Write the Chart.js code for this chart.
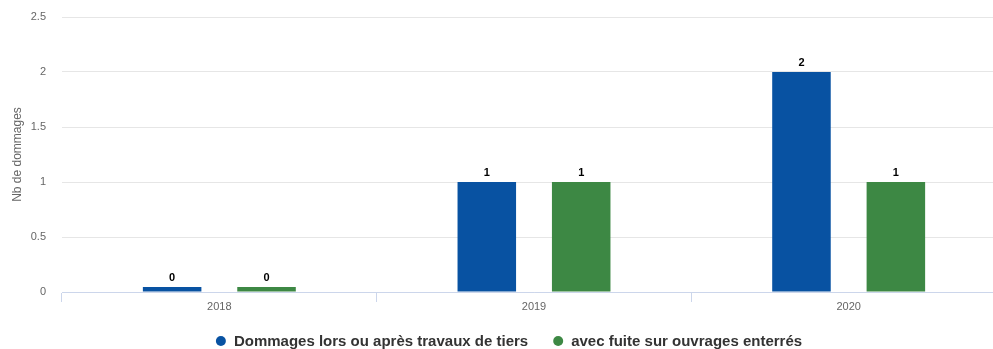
<!DOCTYPE html>
<html>
<head>
<meta charset="utf-8">
<script src="https://cdn.jsdelivr.net/npm/chart.js@4"></script>
<style>
  html, body { margin: 0; padding: 0; background: #fff; overflow: hidden; }
  #wrap { width: 1012px; height: 349px; position: relative; }
</style>
</head>
<body>
<div id="wrap"><canvas id="chart"></canvas></div>
<script>
const years = ['2018', '2019', '2020'];
const dommagesTiers = [0, 1, 2];
const fuiteOuvrages = [0, 1, 1];
const seriesNames = ['Dommages lors ou après travaux de tiers', 'avec fuite sur ouvrages enterrés'];
const seriesColours = ['#0852a2', '#3d8844'];
const yTicks = [0, 0.5, 1, 1.5, 2, 2.5];

const FONT = '"Liberation Sans", Arial, sans-serif';

// writes each bar's value just above it
const barValues = {
  id: 'barValues',
  afterDatasetsDraw(chart) {
    const ctx = chart.ctx;
    ctx.save();
    ctx.font = 'bold 11px ' + FONT;
    ctx.fillStyle = '#000';
    ctx.textAlign = 'center';
    ctx.textBaseline = 'bottom';
    chart.data.datasets.forEach((ds, i) => {
      chart.getDatasetMeta(i).data.forEach((bar, j) => {
        ctx.fillText(String(ds.data[j]), bar.x, bar.y - 4);
      });
    });
    ctx.restore();
  }
};

// legend row under the axis: dot + bold name
const bottomLegend = {
  id: 'bottomLegend',
  afterDraw(chart, args, opts) {
    const ctx = chart.ctx;
    const r = 5, gapText = 8, gapItem = 25;
    ctx.save();
    ctx.font = 'bold 15px ' + FONT;
    const items = chart.data.datasets.map(ds => ({
      text: ds.label, colour: ds.backgroundColor, w: ctx.measureText(ds.label).width
    }));
    const total = items.reduce((s, it) => s + 2 * r + gapText + it.w, 0) + gapItem * (items.length - 1);
    let x = opts.centerX - total / 2;
    const y = opts.y;
    ctx.textBaseline = 'middle';
    ctx.textAlign = 'left';
    items.forEach(it => {
      ctx.fillStyle = it.colour;
      ctx.beginPath();
      ctx.arc(x + r, y, r, 0, Math.PI * 2);
      ctx.fill();
      ctx.fillStyle = '#333';
      ctx.fillText(it.text, x + 2 * r + gapText, y + 1);
      x += 2 * r + gapText + it.w + gapItem;
    });
    ctx.restore();
  }
};

new Chart(document.getElementById('chart'), {
  type: 'bar',
  data: {
    labels: years,
    datasets: [
      { label: seriesNames[0], data: dommagesTiers, backgroundColor: seriesColours[0] },
      { label: seriesNames[1], data: fuiteOuvrages, backgroundColor: seriesColours[1] }
    ]
  },
  plugins: [barValues, bottomLegend],
  options: {
    responsive: true,
    maintainAspectRatio: false,
    animation: false,
    layout: { padding: { top: 17, right: 6, left: 0, bottom: 0 } },
    datasets: {
      bar: { categoryPercentage: 0.6, barPercentage: 0.62, minBarLength: 5 }
    },
    plugins: {
      tooltip: { enabled: false },
      legend: { display: false },
      bottomLegend: { centerX: 509, y: 341 }
    },
    scales: {
      x: {
        afterFit: s => { s.height = 57; },
        grid: { display: true, drawOnChartArea: false, color: '#ccd6eb', tickLength: 10, offset: true },
        border: { color: '#ccd6eb' },
        ticks: { color: '#666', padding: -2, font: { family: FONT, size: 11 } }
      },
      y: {
        min: 0,
        max: 2.5,
        afterBuildTicks: s => { s.ticks = yTicks.map(v => ({ value: v })); },
        afterFit: s => { s.width = 62; s.paddingTop = 0; s.paddingBottom = 0; },
        grid: { color: '#e6e6e6', drawTicks: false },
        border: { display: false },
        ticks: { color: '#666', padding: 16, callback: v => String(v), font: { family: FONT, size: 11 } },
        title: {
          display: true,
          text: 'Nb de dommages',
          color: '#666',
          padding: { top: 10, bottom: 0 },
          font: { family: FONT, size: 12 }
        }
      }
    }
  }
});
</script>
</body>
</html>
